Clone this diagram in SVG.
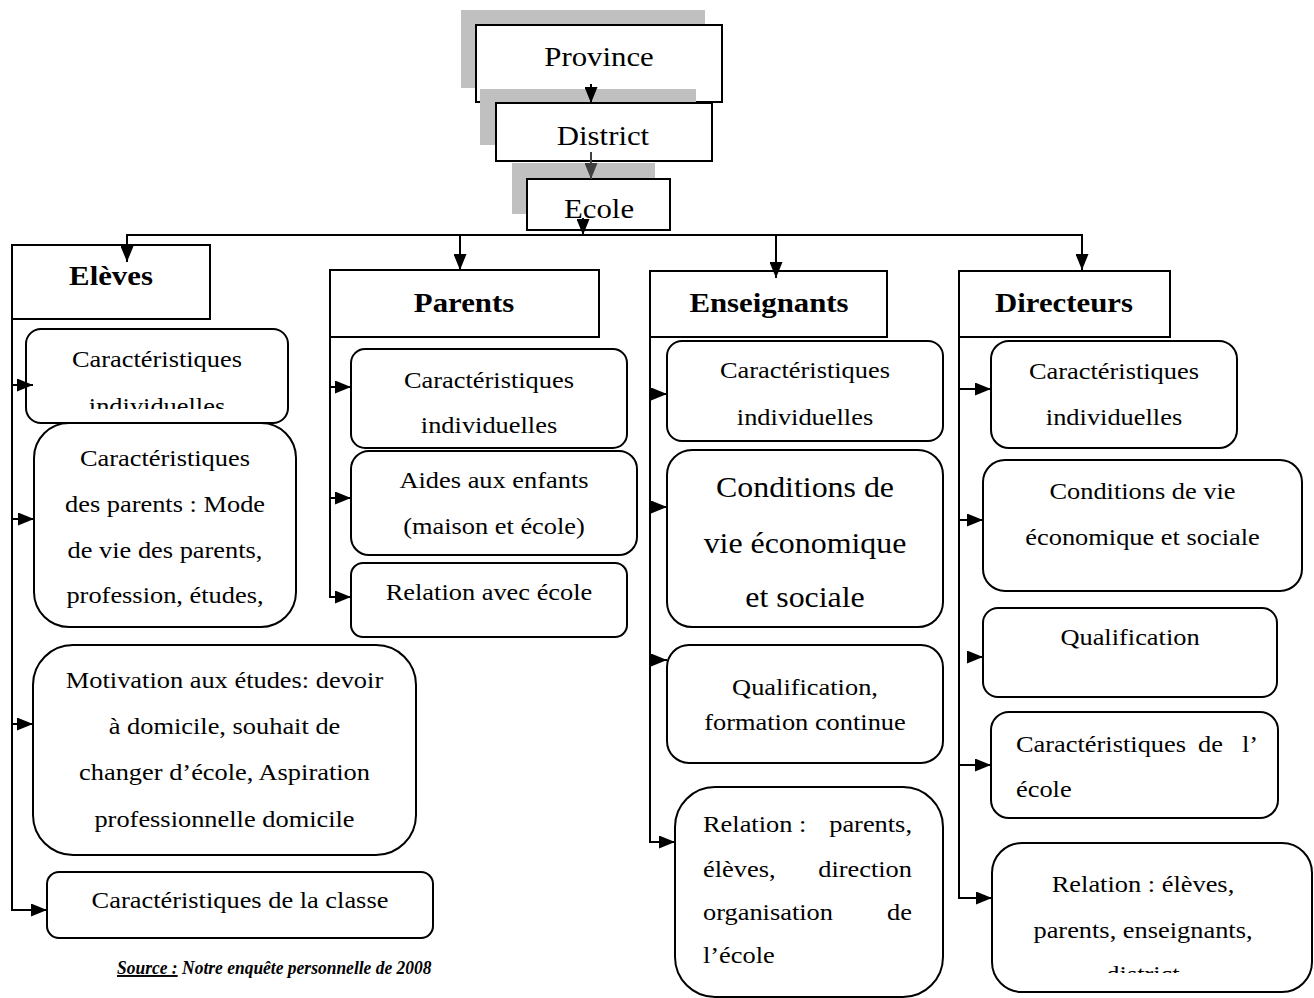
<svg xmlns="http://www.w3.org/2000/svg" width="1314" height="998" viewBox="0 0 1314 998">
<style>
  .bg{fill:#ffffff}
  .sh{fill:#c0c0c0;stroke:none}
  .box{fill:#ffffff;stroke:#000;stroke-width:2}
  .rb{fill:#ffffff;stroke:#000;stroke-width:2}
  .ln{fill:none;stroke:#000;stroke-width:2}
  .lng{fill:none;stroke:#404040;stroke-width:2}
  text{font-family:"Liberation Serif","Times New Roman",serif;fill:#000}
  .top{font-size:28px;text-anchor:middle}
  .hd{font-size:28px;font-weight:bold;text-anchor:middle}
  .t{font-size:24px;text-anchor:middle}
  .tl{font-size:24px;text-anchor:start}
  .tr{font-size:24px;text-anchor:end}
  .big{font-size:29px;text-anchor:middle}
  .src{font-size:19px;font-weight:bold;font-style:italic}
</style>
<defs>
  <marker id="ah" viewBox="0 0 16 13" refX="16" refY="6.5" markerWidth="16" markerHeight="13" markerUnits="userSpaceOnUse" orient="auto">
    <path d="M0,0 L16,6.5 L0,13 Z" fill="#000"/>
  </marker>
  <marker id="ahg" viewBox="0 0 16 13" refX="16" refY="6.5" markerWidth="16" markerHeight="13" markerUnits="userSpaceOnUse" orient="auto">
    <path d="M0,0 L16,6.5 L0,13 Z" fill="#404040"/>
  </marker>
  <clipPath id="clipE1" clipPathUnits="userSpaceOnUse"><rect x="26" y="329" width="262" height="80"/></clipPath>
  <clipPath id="clipD5" clipPathUnits="userSpaceOnUse"><rect x="992" y="843" width="320" height="130"/></clipPath>
</defs>
<rect class="bg" x="0" y="0" width="1314" height="998"/>

<!-- Top hierarchy -->
<g id="province">
  <rect class="sh" x="461" y="10" width="244" height="78"/>
  <rect class="box" x="476" y="25" width="246" height="77"/>
</g>
<g id="district">
  <rect class="sh" x="480" y="89" width="216" height="56"/>
  <rect class="box" x="496" y="103" width="216" height="58"/>
  <text class="top" transform="translate(603 0) scale(1.1 1)" x="0" y="145">District</text>
</g>
<g id="province-label">
  <text class="top" transform="translate(599 0) scale(1.1 1)" x="0" y="66">Province</text>
</g>
<g id="ecole">
  <rect class="sh" x="512" y="163" width="143" height="51"/>
  <rect class="box" x="527" y="179" width="143" height="51"/>
  <text class="top" transform="translate(599 0) scale(1.1 1)" x="0" y="218">Ecole</text>
</g>

<!-- Category headers -->
<g id="eleves">
  <rect class="box" x="12" y="245" width="198" height="74"/>
  <text class="hd" transform="translate(111 0) scale(1.1 1)" x="0" y="285">Elèves</text>
</g>
<g id="parents">
  <rect class="box" x="330" y="270" width="269" height="67"/>
  <text class="hd" transform="translate(464 0) scale(1.1 1)" x="0" y="312">Parents</text>
</g>
<g id="enseignants">
  <rect class="box" x="650" y="271" width="237" height="66"/>
  <text class="hd" transform="translate(769 0) scale(1.1 1)" x="0" y="312">Enseignants</text>
</g>
<g id="directeurs">
  <rect class="box" x="959" y="271" width="211" height="66"/>
  <text class="hd" transform="translate(1064 0) scale(1.1 1)" x="0" y="312">Directeurs</text>
</g>

<!-- Elèves children -->
<g id="e1">
  <rect class="rb" x="26" y="329" width="262" height="94" rx="15"/>
  <g clip-path="url(#clipE1)">
    <text class="t" transform="translate(157 0) scale(1.1 1)"><tspan x="0" y="367">Caractéristiques</tspan><tspan x="0" y="414">individuelles</tspan></text>
  </g>
</g>
<g id="e2">
  <rect class="rb" x="34" y="423" width="262" height="204" rx="35"/>
  <text class="t" transform="translate(165 0) scale(1.1 1)"><tspan x="0" y="466">Caractéristiques</tspan><tspan x="0" y="512">des parents : Mode</tspan><tspan x="0" y="558">de vie des parents,</tspan><tspan x="0" y="603">profession, études,</tspan></text>
</g>
<g id="e3">
  <rect class="rb" x="33" y="645" width="383" height="210" rx="40"/>
  <text class="t" transform="translate(224.5 0) scale(1.1 1)"><tspan x="0" y="688">Motivation aux études: devoir</tspan><tspan x="0" y="734">à domicile, souhait de</tspan><tspan x="0" y="780">changer d’école, Aspiration</tspan><tspan x="0" y="827">professionnelle domicile</tspan></text>
</g>
<g id="e4">
  <rect class="rb" x="47" y="872" width="386" height="66" rx="12"/>
  <text class="t" transform="translate(240 0) scale(1.1 1)" x="0" y="908">Caractéristiques de la classe</text>
</g>

<!-- Parents children -->
<g id="p1">
  <rect class="rb" x="351" y="349" width="276" height="99" rx="14"/>
  <text class="t" transform="translate(489 0) scale(1.1 1)"><tspan x="0" y="388">Caractéristiques</tspan><tspan x="0" y="433">individuelles</tspan></text>
</g>
<g id="p2">
  <rect class="rb" x="351" y="451" width="286" height="104" rx="18"/>
  <text class="t" transform="translate(494 0) scale(1.1 1)"><tspan x="0" y="488">Aides aux enfants</tspan><tspan x="0" y="534">(maison et école)</tspan></text>
</g>
<g id="p3">
  <rect class="rb" x="351" y="563" width="276" height="74" rx="12"/>
  <text class="t" transform="translate(489 0) scale(1.1 1)" x="0" y="600">Relation avec école</text>
</g>

<!-- Enseignants children -->
<g id="s1">
  <rect class="rb" x="667" y="341" width="276" height="100" rx="15"/>
  <text class="t" transform="translate(805 0) scale(1.1 1)"><tspan x="0" y="378">Caractéristiques</tspan><tspan x="0" y="425">individuelles</tspan></text>
</g>
<g id="s2">
  <rect class="rb" x="667" y="450" width="276" height="177" rx="25"/>
  <text class="big" transform="translate(805 0) scale(1.1 1)"><tspan x="0" y="497">Conditions de</tspan><tspan x="0" y="553">vie économique</tspan><tspan x="0" y="607">et sociale</tspan></text>
</g>
<g id="s3">
  <rect class="rb" x="667" y="645" width="276" height="118" rx="22"/>
  <text class="t" transform="translate(805 0) scale(1.1 1)"><tspan x="0" y="695">Qualification,</tspan><tspan x="0" y="730">formation continue</tspan></text>
</g>
<g id="s4">
  <rect class="rb" x="675" y="787" width="268" height="210" rx="40"/>
  <text class="tl" transform="translate(703 0) scale(1.1 1)"><tspan x="0" y="832">Relation :</tspan><tspan x="0" y="877">élèves,</tspan><tspan x="0" y="920">organisation</tspan><tspan x="0" y="963">l’école</tspan></text>
  <text class="tr" transform="translate(912 0) scale(1.1 1)"><tspan x="0" y="832">parents,</tspan><tspan x="0" y="877">direction</tspan><tspan x="0" y="920">de</tspan></text>
</g>

<!-- Directeurs children -->
<g id="d1">
  <rect class="rb" x="991" y="341" width="246" height="107" rx="18"/>
  <text class="t" transform="translate(1114 0) scale(1.1 1)"><tspan x="0" y="379">Caractéristiques</tspan><tspan x="0" y="425">individuelles</tspan></text>
</g>
<g id="d2">
  <rect class="rb" x="983" y="460" width="319" height="131" rx="22"/>
  <text class="t" transform="translate(1142.5 0) scale(1.1 1)"><tspan x="0" y="499">Conditions de vie</tspan><tspan x="0" y="545">économique et sociale</tspan></text>
</g>
<g id="d3">
  <rect class="rb" x="983" y="608" width="294" height="89" rx="15"/>
  <text class="t" transform="translate(1130 0) scale(1.1 1)" x="0" y="645">Qualification</text>
</g>
<g id="d4">
  <rect class="rb" x="991" y="712" width="287" height="106" rx="18"/>
  <text class="tl" transform="translate(1016 0) scale(1.1 1)"><tspan x="0" y="752">Caractéristiques</tspan><tspan x="0" y="797">école</tspan></text>
  <text class="tl" transform="translate(1198 0) scale(1.1 1)" x="0" y="752">de</text>
  <text class="tr" transform="translate(1258 0) scale(1.1 1)" x="0" y="752">l’</text>
</g>
<g id="d5">
  <rect class="rb" x="992" y="843" width="320" height="149" rx="30"/>
  <g clip-path="url(#clipD5)">
    <text class="t" transform="translate(1143 0) scale(1.1 1)"><tspan x="0" y="892">Relation : élèves,</tspan><tspan x="0" y="938">parents, enseignants,</tspan><tspan x="0" y="982">district</tspan></text>
  </g>
</g>

<!-- Connectors -->
<g id="connectors">
  <line class="ln" x1="591" y1="84" x2="591" y2="103" marker-end="url(#ah)"/>
  <line class="lng" x1="591" y1="152" x2="591" y2="179" marker-end="url(#ahg)"/>
  <line class="ln" x1="583" y1="218" x2="583" y2="235" marker-end="url(#ah)"/>
  <polyline class="ln" points="127,262 127,235 1082,235 1082,270" marker-end="url(#ah)"/>
  <line class="ln" x1="127" y1="235" x2="127" y2="262" marker-end="url(#ah)"/>
  <line class="ln" x1="460" y1="235" x2="460" y2="270" marker-end="url(#ah)"/>
  <line class="ln" x1="776" y1="235" x2="776" y2="278" marker-end="url(#ah)"/>

  <polyline class="ln" points="12,319 12,910 47,910" marker-end="url(#ah)"/>
  <line class="ln" x1="12" y1="385" x2="33" y2="385" marker-end="url(#ah)"/>
  <line class="ln" x1="12" y1="519" x2="34" y2="519" marker-end="url(#ah)"/>
  <line class="ln" x1="12" y1="724" x2="33" y2="724" marker-end="url(#ah)"/>

  <polyline class="ln" points="330,337 330,597 351,597" marker-end="url(#ah)"/>
  <line class="ln" x1="330" y1="387" x2="351" y2="387" marker-end="url(#ah)"/>
  <line class="ln" x1="330" y1="498" x2="351" y2="498" marker-end="url(#ah)"/>

  <polyline class="ln" points="650,337 650,842 675,842" marker-end="url(#ah)"/>
  <line class="ln" x1="650" y1="394" x2="667" y2="394" marker-end="url(#ah)"/>
  <line class="ln" x1="650" y1="507" x2="667" y2="507" marker-end="url(#ah)"/>
  <line class="ln" x1="650" y1="660" x2="667" y2="660" marker-end="url(#ah)"/>

  <polyline class="ln" points="959,337 959,898 992,898" marker-end="url(#ah)"/>
  <line class="ln" x1="959" y1="389" x2="991" y2="389" marker-end="url(#ah)"/>
  <line class="ln" x1="959" y1="520" x2="983" y2="520" marker-end="url(#ah)"/>
  <line class="ln" x1="968" y1="657" x2="983" y2="657" marker-end="url(#ah)"/>
  <line class="ln" x1="959" y1="765" x2="991" y2="765" marker-end="url(#ah)"/>
</g>

<!-- Source -->
<g id="source">
  <text class="src" transform="translate(117 0) scale(0.92 1)" x="0" y="974"><tspan text-decoration="underline">Source :</tspan> Notre enquête personnelle de 2008</text>
</g>
</svg>
